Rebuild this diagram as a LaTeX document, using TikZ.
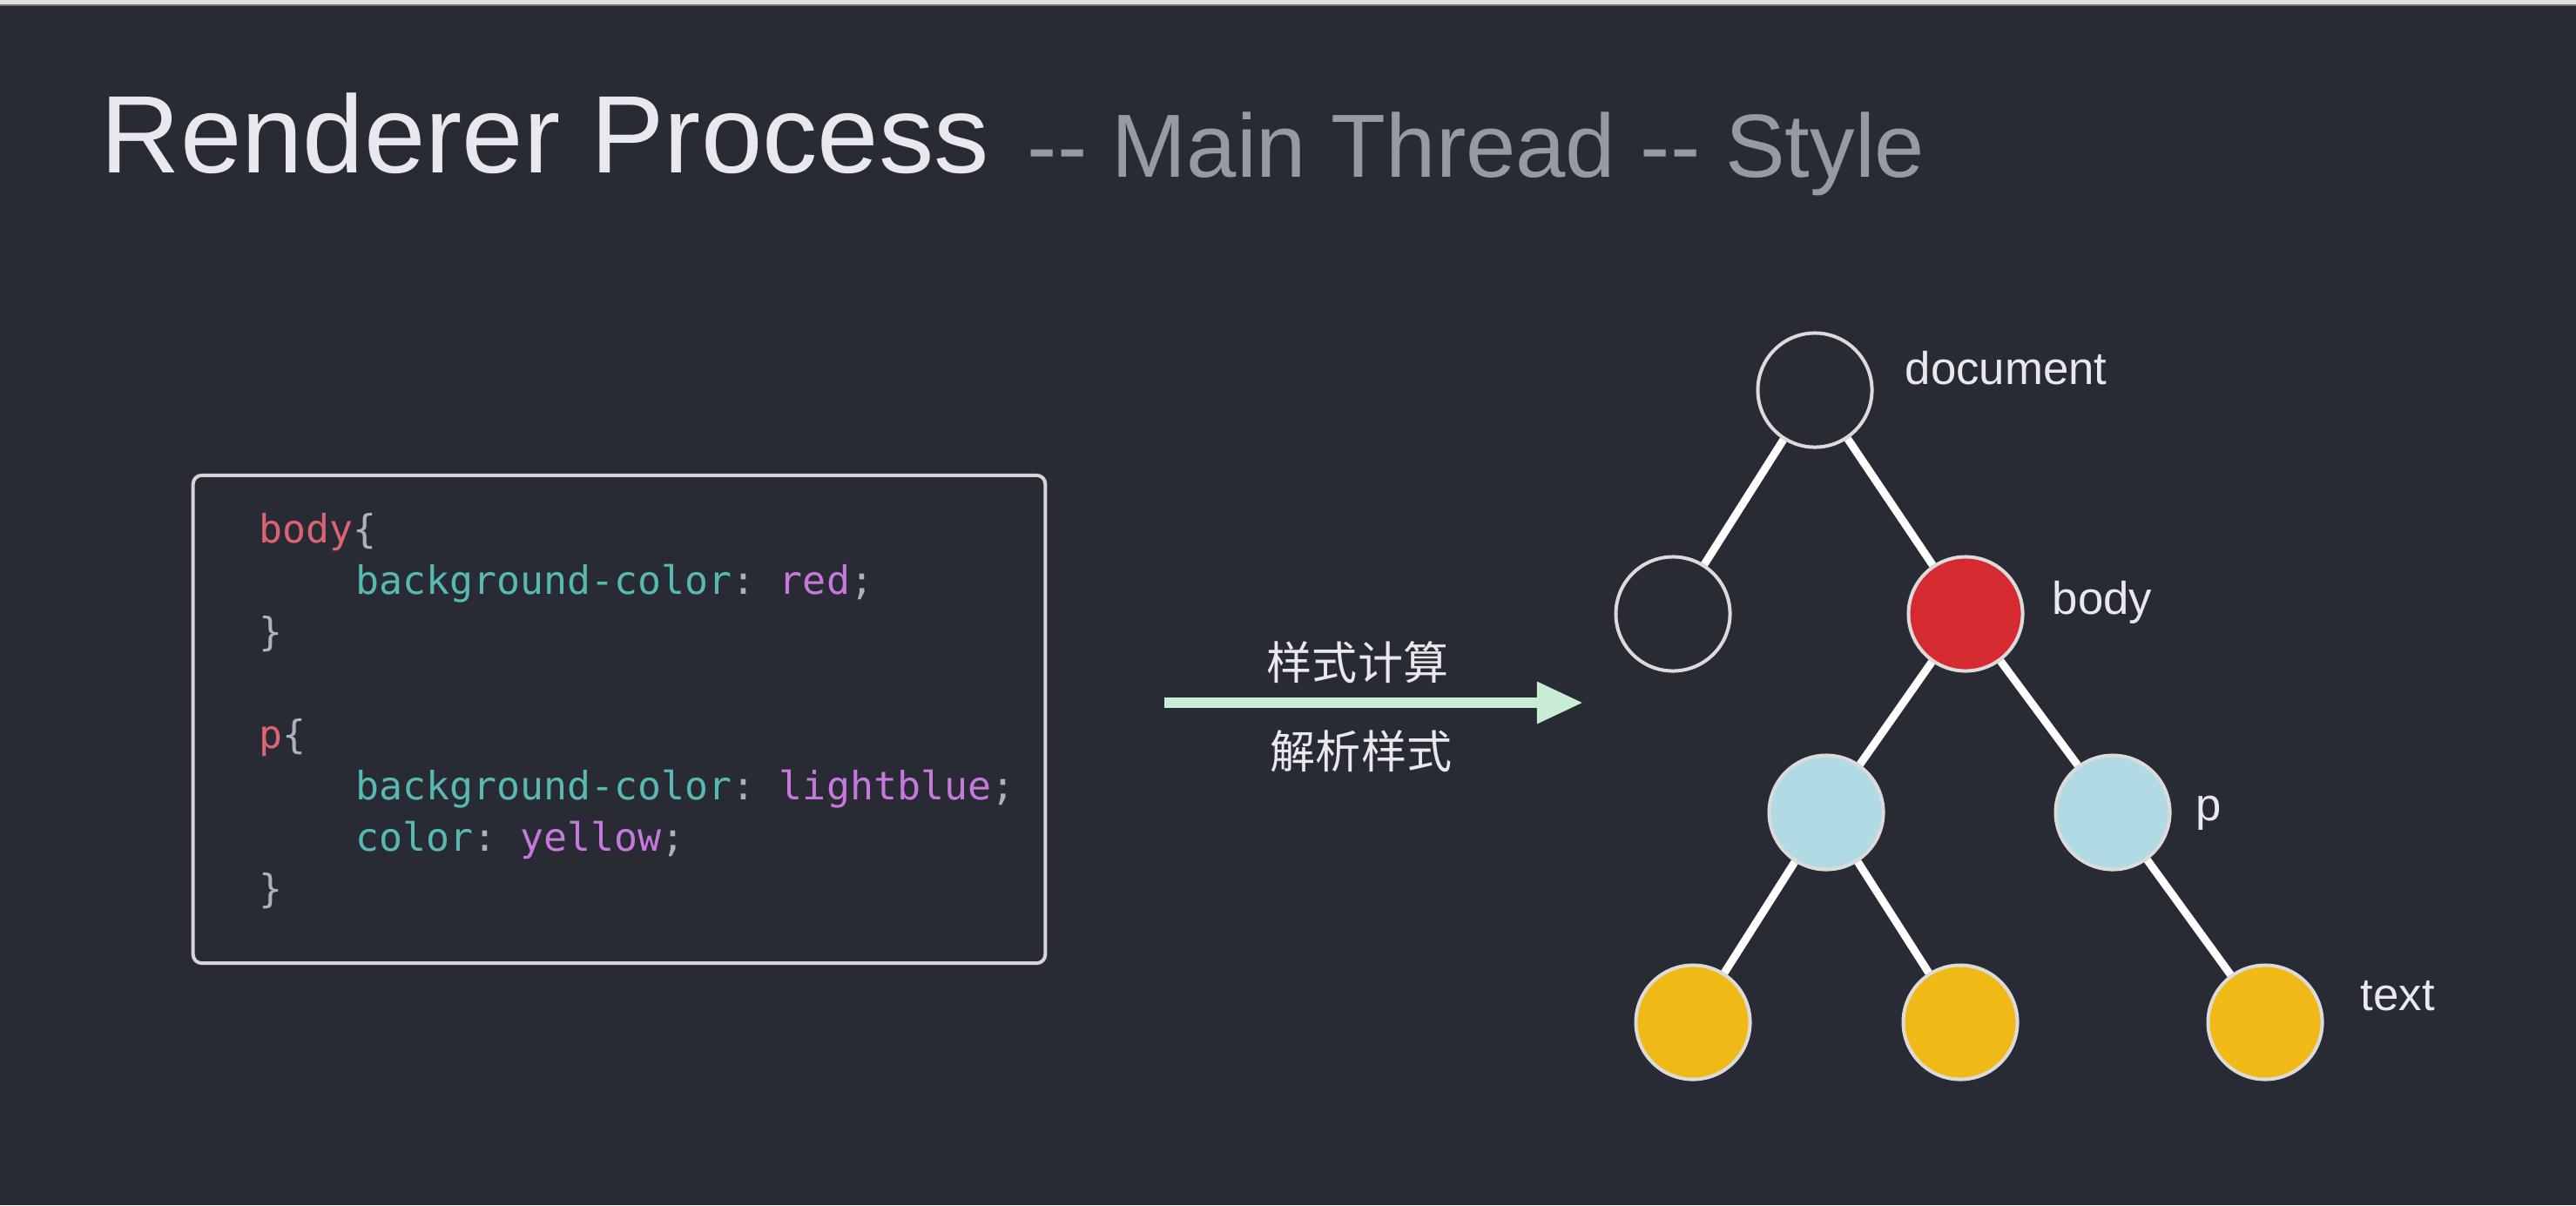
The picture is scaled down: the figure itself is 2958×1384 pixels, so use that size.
\documentclass[tikz,border=0pt]{standalone}
\usepackage{fontspec}
\setmainfont{Liberation Sans}
\setmonofont{DejaVu Sans Mono}
\newfontfamily\cjkfont{Noto Sans CJK SC}
\usetikzlibrary{arrows.meta,positioning}

\definecolor{slidebg}{RGB}{41,43,52}
\definecolor{stripgray}{RGB}{226,222,222}
\definecolor{stripline}{RGB}{110,110,116}
\definecolor{titlewhite}{RGB}{232,233,238}
\definecolor{subgray}{RGB}{150,155,162}
\definecolor{ringgray}{RGB}{220,218,218}
\definecolor{boxgray}{RGB}{214,214,216}
\definecolor{arrowgreen}{RGB}{200,236,212}
\definecolor{domred}{RGB}{212,42,48}
\definecolor{domblue}{RGB}{176,218,228}
\definecolor{domyellow}{RGB}{240,185,22}
\definecolor{csskey}{RGB}{218,100,114}
\definecolor{cssprop}{RGB}{88,184,178}
\definecolor{cssval}{RGB}{198,120,221}
\definecolor{csspun}{RGB}{171,178,191}

\newcommand{\csssel}[1]{\textcolor{csskey}{#1}}
\newcommand{\cssattr}[1]{\textcolor{cssprop}{#1}}
\newcommand{\cssvalue}[1]{\textcolor{cssval}{#1}}
\newcommand{\csspunct}[1]{\textcolor{csspun}{#1}}

\begin{document}
\begin{tikzpicture}[
  x=0.01cm, y=-0.01cm,
  title/.style={text=titlewhite, inner sep=0pt, anchor=base west, font=\fontsize{36}{40}\selectfont},
  subtitle/.style={text=subgray, inner sep=0pt, anchor=base west, font=\fontsize{29.3}{32}\selectfont},
  codebox/.style={draw=boxgray, line width=0.04cm, rounded corners=0.1cm, minimum width=9.78cm, minimum height=5.6cm},
  code/.style={inner sep=0pt, anchor=base west, font=\ttfamily\fontsize{12.76}{16}\selectfont},
  cjk/.style={text=titlewhite, inner sep=0pt, font=\cjkfont\fontsize{14.8}{18}\selectfont},
  flow/.style={draw=arrowgreen, line width=0.12cm, -{Triangle[length=0.53cm, width=0.45cm]}},
  dom/.style={circle, draw=ringgray, line width=0.04cm, minimum size=1.31cm, inner sep=0pt},
  emptydom/.style={dom},
  reddom/.style={dom, fill=domred},
  bluedom/.style={dom, fill=domblue},
  yellowdom/.style={dom, fill=domyellow},
  link/.style={draw=white, line width=0.09cm},
  domlabel/.style={text=titlewhite, inner sep=0pt, anchor=base west, font=\fontsize{15}{18}\selectfont},
]
  % slide background
  \fill[slidebg] (0,0) rectangle (2958,1384);
  \fill[stripgray] (0,0) rectangle (2958,5);
  \fill[stripline] (0,5) rectangle (2958,6.5);
  \useasboundingbox (0,0) rectangle (2958,1384);

  % heading
  \node[title] (head) at (115,198) {Renderer Process};
  \node[subtitle] (subhead) at (1179,203) {-{}- Main Thread -{}- Style};

  % css source
  \node[codebox] (css) at (711,826) {};
  \node[code] (c1) at (297,623) {\csssel{body}\csspunct{\{}};
  \node[code] (c2) at (408,682) {\cssattr{background-color}\csspunct{:} \cssvalue{red}\csspunct{;}};
  \node[code] (c3) at (297,741) {\csspunct{\}}};
  \node[code] (c4) at (297,859) {\csssel{p}\csspunct{\{}};
  \node[code] (c5) at (408,918) {\cssattr{background-color}\csspunct{:} \cssvalue{lightblue}\csspunct{;}};
  \node[code] (c6) at (408,977) {\cssattr{color}\csspunct{:} \cssvalue{yellow}\csspunct{;}};
  \node[code] (c7) at (297,1036) {\csspunct{\}}};

  % style computation arrow
  \coordinate (flowstart) at (1337,807);
  \coordinate (flowend) at (1818,807);
  \draw[flow] (flowstart) -- (flowend);
  \node[cjk] (calc) at (1559,761) {样式计算};
  \node[cjk] (parse) at (1563,863) {解析样式};

  % dom tree
  \node[emptydom] (docnode) at (2084,448) {};
  \node[emptydom] (leftnode) at (1921,705) {};
  \node[reddom] (bodynode) at (2257,705) {};
  \node[bluedom] (pleft) at (2097,933) {};
  \node[bluedom] (pright) at (2426,933) {};
  \node[yellowdom] (textA) at (1944,1174) {};
  \node[yellowdom] (textB) at (2251,1174) {};
  \node[yellowdom] (textC) at (2601,1174) {};
  \draw[link] (docnode) -- (leftnode);
  \draw[link] (docnode) -- (bodynode);
  \draw[link] (bodynode) -- (pleft);
  \draw[link] (bodynode) -- (pright);
  \draw[link] (pleft) -- (textA);
  \draw[link] (pleft) -- (textB);
  \draw[link] (pright) -- (textC);

  \node[domlabel] (doclabel) at (2187,441) {document};
  \node[domlabel] (bodylabel) at (2356,705) {body};
  \node[domlabel] (plabel) at (2521,942) {p};
  \node[domlabel] (textlabel) at (2710,1160) {text};
\end{tikzpicture}
\end{document}
